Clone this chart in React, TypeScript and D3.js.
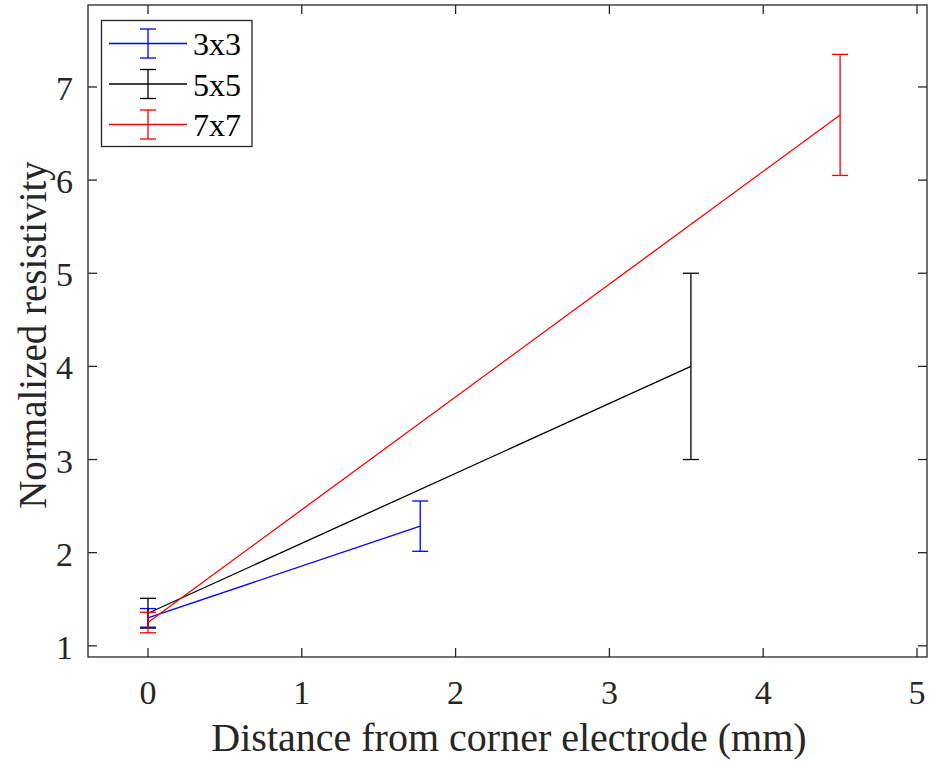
import { useEffect, useRef } from "react"
import * as d3 from "d3"

type Pt = { x: number; y: number; e: number }

const seriesNames = ["3x3", "5x5", "7x7"]
const seriesColors = ["#0000ff", "#000000", "#ff0000"]
const dist3 = [0, 1.77]
const res3 = [1.3, 2.285]
const err3 = [0.1, 0.27]
const dist5 = [0, 3.53]
const res5 = [1.35, 4.0]
const err5 = [0.16, 1.0]
const dist7 = [0, 4.5]
const res7 = [1.25, 6.7]
const err7 = [0.11, 0.65]
const xTicks = [0, 1, 2, 3, 4, 5]
const yTicks = [1, 2, 3, 4, 5, 6, 7]

const toPts = (xs: number[], ys: number[], es: number[]): Pt[] =>
  xs.map((x, i) => ({ x, y: ys[i], e: es[i] }))

export default function App() {
  const svgRef = useRef<SVGSVGElement>(null)

  useEffect(() => {
    if (!svgRef.current) return
    const svg = d3.select(svgRef.current)
    svg.selectAll("*").remove()

    const W = 929
    const H = 761
    const left = 88
    const right = 927
    const top = 5
    const bottom = 657
    const font = "'Liberation Serif', 'Times New Roman', serif"
    const axisColor = "#262626"

    const x = d3.scaleLinear().domain([-0.39, 5.065]).range([left, right])
    const y = d3.scaleLinear().domain([0.88, 7.88]).range([bottom, top])

    svg.attr("width", W).attr("height", H).attr("viewBox", `0 0 ${W} ${H}`)
    svg.append("rect").attr("width", W).attr("height", H).attr("fill", "#fff")

    const data = [toPts(dist3, res3, err3), toPts(dist5, res5, err5), toPts(dist7, res7, err7)]

    const line = d3
      .line<Pt>()
      .x((d) => x(d.x))
      .y((d) => y(d.y))

    const plot = svg.append("g")
    data.forEach((pts, i) => {
      const c = seriesColors[i]
      plot
        .append("path")
        .attr("d", line(pts))
        .attr("fill", "none")
        .attr("stroke", c)
        .attr("stroke-width", 1.3)
      pts.forEach((p) => {
        const cx = x(p.x)
        const y0 = y(p.y - p.e)
        const y1 = y(p.y + p.e)
        const g = plot.append("g").attr("stroke", c).attr("stroke-width", 1.3)
        g.append("line").attr("x1", cx).attr("x2", cx).attr("y1", y0).attr("y2", y1)
        g.append("line").attr("x1", cx - 8).attr("x2", cx + 8).attr("y1", y0).attr("y2", y0)
        g.append("line").attr("x1", cx - 8).attr("x2", cx + 8).attr("y1", y1).attr("y2", y1)
      })
    })

    // axes box
    const ax = svg.append("g").attr("stroke", axisColor).attr("stroke-width", 1.3)
    ax.append("rect")
      .attr("x", left)
      .attr("y", top)
      .attr("width", right - left)
      .attr("height", bottom - top)
      .attr("fill", "none")

    xTicks.forEach((t) => {
      const px = x(t)
      ax.append("line").attr("x1", px).attr("x2", px).attr("y1", bottom).attr("y2", bottom - 9)
      ax.append("line").attr("x1", px).attr("x2", px).attr("y1", top).attr("y2", top + 9)
      svg
        .append("text")
        .attr("x", px)
        .attr("y", 704)
        .attr("text-anchor", "middle")
        .style("font-family", font)
        .style("font-size", "34px")
        .style("fill", axisColor)
        .text(t)
    })

    yTicks.forEach((t) => {
      const py = y(t)
      ax.append("line").attr("x1", left).attr("x2", left + 9).attr("y1", py).attr("y2", py)
      ax.append("line").attr("x1", right).attr("x2", right - 9).attr("y1", py).attr("y2", py)
      svg
        .append("text")
        .attr("x", 73)
        .attr("y", py + 13)
        .attr("text-anchor", "end")
        .style("font-family", font)
        .style("font-size", "34px")
        .style("fill", axisColor)
        .text(t)
    })

    svg
      .append("text")
      .attr("x", 509)
      .attr("y", 751)
      .attr("text-anchor", "middle")
      .style("font-family", font)
      .style("font-size", "40px")
      .style("fill", axisColor)
      .text("Distance from corner electrode (mm)")

    svg
      .append("text")
      .attr("transform", `translate(46, 335) rotate(-90)`)
      .attr("text-anchor", "middle")
      .style("font-family", font)
      .style("font-size", "39px")
      .style("fill", axisColor)
      .text("Normalized resistivity")

    // legend
    const lg = svg.append("g")
    lg.append("rect")
      .attr("x", 101.5)
      .attr("y", 20.5)
      .attr("width", 150.5)
      .attr("height", 126)
      .attr("fill", "#fff")
      .attr("stroke", axisColor)
      .attr("stroke-width", 1.3)
    seriesNames.forEach((name, i) => {
      const ly = 43.5 + i * 40.5
      const c = seriesColors[i]
      const g = lg.append("g").attr("stroke", c).attr("stroke-width", 1.3)
      g.append("line").attr("x1", 109).attr("x2", 187).attr("y1", ly).attr("y2", ly)
      g.append("line").attr("x1", 148).attr("x2", 148).attr("y1", ly - 14.5).attr("y2", ly + 14.5)
      g.append("line").attr("x1", 140).attr("x2", 156).attr("y1", ly - 14.5).attr("y2", ly - 14.5)
      g.append("line").attr("x1", 140).attr("x2", 156).attr("y1", ly + 14.5).attr("y2", ly + 14.5)
      lg.append("text")
        .attr("x", 193)
        .attr("y", ly + 11.5)
        .style("font-family", font)
        .style("font-size", "32px")
        .style("fill", "#000")
        .text(name)
    })
  }, [])

  return <svg ref={svgRef} style={{ display: "block", position: "absolute", left: 0, top: 0 }} />
}
